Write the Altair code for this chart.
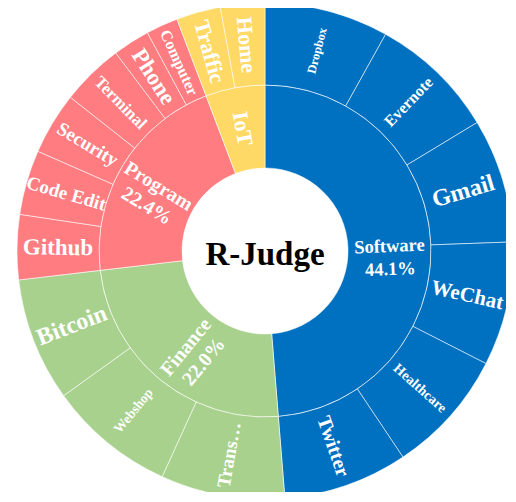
import altair as alt
import pandas as pd

# ---- data (clockwise from 12 o'clock) ----
leaf_names = ["Dropbox", "Evernote", "Gmail", "WeChat", "Healthcare", "Twitter",
              "Trans…", "Webshop", "Bitcoin",
              "Github", "Code Edit", "Security", "Terminal", "Phone", "Computer",
              "Traffic", "Home"]
leaf_parent = (["Software"] * 6 + ["Finance"] * 3 + ["Program"] * 6 + ["IoT"] * 2)
leaf_values = [29.1, 29.7, 29.1, 29.1, 29.2, 29.2,
               29.1, 29.8, 29.0,
               15.2, 15.2, 14.6, 14.7, 8.7, 7.5,
               10.4, 10.4]

category_names = ["Software", "Finance", "Program", "IoT"]
category_pct = ["44.1%", "22.0%", "22.4%", ""]
center_title = "R-Judge"

# ---- styles ----
category_colors = {"Software": "#0070C0", "Finance": "#A9D18E",
                   "Program": "#FF7C80", "IoT": "#FFD966"}
leaf_font = {"Dropbox": 12.5, "Evernote": 16, "Gmail": 24, "WeChat": 21,
             "Healthcare": 14, "Twitter": 20, "Trans…": 19, "Webshop": 13.5,
             "Bitcoin": 24, "Github": 23, "Code Edit": 19, "Security": 19,
             "Terminal": 17, "Phone": 23, "Computer": 16, "Traffic": 22,
             "Home": 22}
inner_font = {"Software": 18.5, "Finance": 20, "Program": 20, "IoT": 22}
FONT = "Liberation Serif"
CX, CY = 257, 243
R0, R1, R2 = 83, 166, 248

# ---- tables ----
leaf = pd.DataFrame({"name": leaf_names, "parent": leaf_parent, "value": leaf_values})
total = leaf["value"].sum()
leaf["end"] = leaf["value"].cumsum()
leaf["start"] = leaf["end"] - leaf["value"]
leaf["mid"] = (leaf["start"] + leaf["end"]) / 2
leaf["fs"] = leaf["name"].map(leaf_font)

cat = (leaf.groupby("parent", sort=False)["value"].sum()
       .reindex(category_names).reset_index())
cat.columns = ["name", "value"]
cat["pct"] = category_pct
cat["end"] = cat["value"].cumsum()
cat["start"] = cat["end"] - cat["value"]
cat["mid"] = (cat["start"] + cat["end"]) / 2
cat["label"] = [n + ("\n" + p if p else "") for n, p in zip(cat["name"], cat["pct"])]
cat["fs"] = cat["name"].map(inner_font)


def rot(df):
    deg = df["mid"] / total * 360
    r = deg.where(deg < 180, deg - 180) - 90
    return r % 360


leaf["rot"] = rot(leaf)
cat["rot"] = rot(cat)

theta_scale = alt.Scale(domain=[0, total], range=[0, 6.283185307179586])
color_scale = alt.Scale(domain=list(category_colors.keys()),
                        range=list(category_colors.values()))

inner_arc = alt.Chart(cat).mark_arc(
    radius=R1, radius2=R0, stroke="white", strokeWidth=0.8, strokeOpacity=0.7
).encode(
    theta=alt.Theta("start:Q", scale=theta_scale, stack=False),
    theta2="end:Q",
    color=alt.Color("name:N", scale=color_scale, legend=None),
    x=alt.value(CX), y=alt.value(CY),
)

outer_arc = alt.Chart(leaf).mark_arc(
    radius=R2, radius2=R1, stroke="white", strokeWidth=0.8, strokeOpacity=0.7
).encode(
    theta=alt.Theta("start:Q", scale=theta_scale, stack=False),
    theta2="end:Q",
    color=alt.Color("parent:N", scale=color_scale, legend=None),
    x=alt.value(CX), y=alt.value(CY),
)

inner_text = alt.Chart(cat).mark_text(
    radius=(R0 + R1) / 2, font=FONT, fontWeight="bold", color="white",
    lineBreak="\n", lineHeight=23, align="center", baseline="middle"
).encode(
    theta=alt.Theta("mid:Q", scale=theta_scale, stack=False),
    text="label:N",
    angle=alt.Angle("rot:Q", scale=None),
    size=alt.Size("fs:Q", scale=None),
    x=alt.value(CX), y=alt.value(CY),
)

outer_text = alt.Chart(leaf).mark_text(
    radius=(R1 + R2) / 2, font=FONT, fontWeight="bold", color="white",
    align="center", baseline="middle"
).encode(
    theta=alt.Theta("mid:Q", scale=theta_scale, stack=False),
    text="name:N",
    angle=alt.Angle("rot:Q", scale=None),
    size=alt.Size("fs:Q", scale=None),
    x=alt.value(CX), y=alt.value(CY),
)

title_text = alt.Chart(pd.DataFrame({"t": [center_title]})).mark_text(
    font=FONT, fontWeight="bold", fontSize=33, color="black",
    align="center", baseline="middle", dy=4
).encode(text="t:N", x=alt.value(CX), y=alt.value(CY))

chart = alt.layer(inner_arc, outer_arc, inner_text, outer_text, title_text).properties(
    width=498, height=484, padding=0, autosize=alt.AutoSizeParams(type="none")
).configure_view(strokeWidth=0)

chart.save("out.html", embed_options={"renderer": "svg", "actions": False})
